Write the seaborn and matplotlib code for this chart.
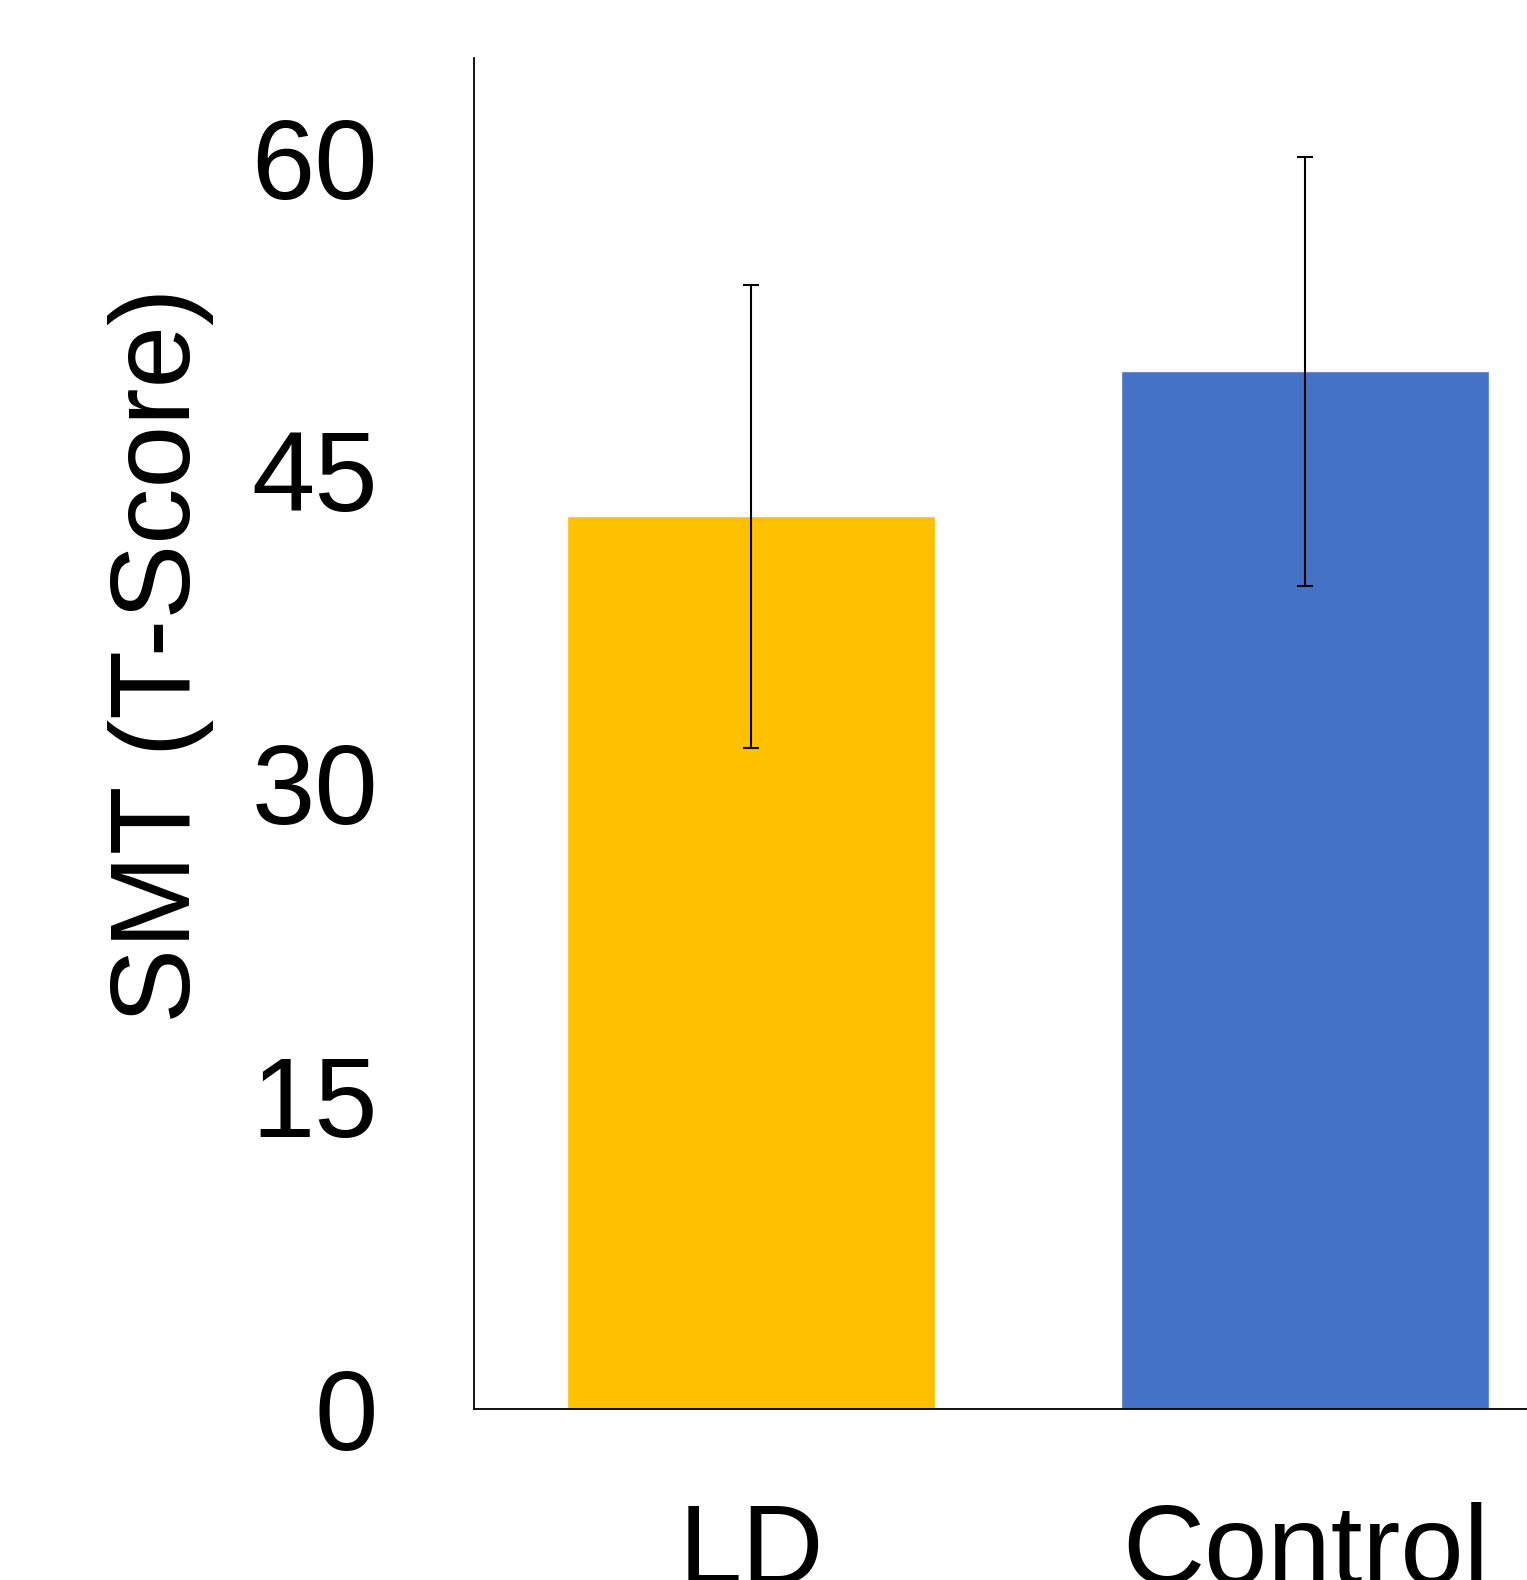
import pandas as pd
import matplotlib
matplotlib.use("Agg")
import matplotlib.pyplot as plt
import seaborn as sns

# group means and SDs
groups = ["LD", "Control"]
means = [42.8, 49.75]
sds = [11.1, 10.3]
colors = ["#FFC000", "#4472C4"]
yticks = [0, 15, 30, 45, 60]

df = pd.DataFrame({"group": groups, "score": means})

sns.set_style("white")
plt.rcParams["font.family"] = ["Liberation Sans", "DejaVu Sans"]
plt.rcParams.update({"text.color": "black", "axes.labelcolor": "black",
                     "xtick.color": "black", "ytick.color": "black"})

fig = plt.figure(figsize=(15.27, 15.80), dpi=100)
ax = fig.add_axes([0.3104, 0.1082, 0.6896, 0.8554])

sns.barplot(data=df, x="group", y="score", hue="group", palette=colors,
            width=0.664, errorbar=None, legend=False, saturation=1, ax=ax)
ax.errorbar(range(len(groups)), means, yerr=sds, fmt="none",
            ecolor="black", elinewidth=1.5, capsize=6, capthick=1.5)

ax.set_xlim(-0.5, 1.4)
ax.set_ylim(0, 64.8)
ax.set_yticks(yticks)
ax.tick_params(axis="both", length=0, labelsize=82)
ax.tick_params(axis="y", pad=69)
ax.tick_params(axis="x", pad=67)
ax.set_xlabel("")
ax.set_ylabel("SMT (T-Score)", fontsize=81)
ax.yaxis.set_label_coords(-0.247, 0.558)

sns.despine(ax=ax)
for side in ["left", "bottom"]:
    ax.spines[side].set_color("black")
    ax.spines[side].set_linewidth(1.3)

fig.savefig("out.png", dpi=100)
